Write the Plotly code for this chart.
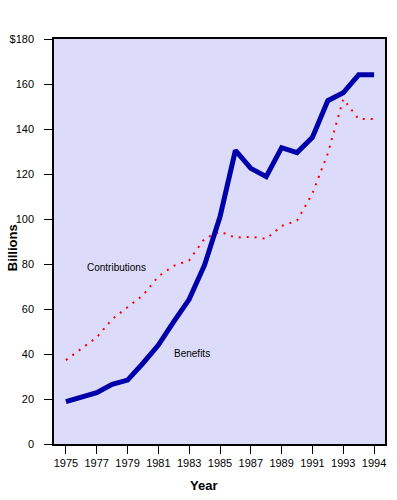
import plotly.graph_objects as go

# x positions (the last plotted point carries the label "1994" in the reference)
years = list(range(1975, 1996))
benefits = [18.8, 21.0, 22.8, 26.5, 28.4, 35.9, 44.0, 54.4, 64.3, 79.6, 101.0,
            130.5, 122.5, 118.8, 131.7, 129.5, 136.3, 152.6, 156.1, 164.1, 164.1]
contributions = [37.3, 42.2, 47.4, 55.5, 61.0, 66.1, 74.5, 79.2, 81.6, 91.3, 94.4,
                 91.7, 92.1, 91.2, 96.9, 99.3, 111.4, 129.2, 153.3, 144.4, 144.4]

x_tickvals = [1975, 1977, 1979, 1981, 1983, 1985, 1987, 1989, 1991, 1993, 1995]
x_ticktext = ["1975", "1977", "1979", "1981", "1983", "1985", "1987", "1989", "1991", "1993", "1994"]
y_tickvals = [0, 20, 40, 60, 80, 100, 120, 140, 160, 180]
y_ticktext = ["0", "20", "40", "60", "80", "100", "120", "140", "160", "$180"]

FONT = "Liberation Sans, Arial, sans-serif"

W, H = 397, 500
L, R, T, B = 54, 10, 39, 56
pw, ph = W - L - R, H - T - B


def px_to_paper(px, py):
    return (px - L) / pw, (H - B - py) / ph


fig = go.Figure()
fig.add_trace(go.Scatter(x=years, y=contributions, mode="lines",
                         line=dict(color="#FF0000", width=2, dash="2px,6px"),
                         name="Contributions", showlegend=False))
fig.add_trace(go.Scatter(x=years, y=benefits, mode="lines",
                         line=dict(color="#0000AA", width=5),
                         name="Benefits", showlegend=False))

fig.add_annotation(x=1978.25, y=78.3, text="Contributions", showarrow=False,
                   font=dict(family=FONT, size=10, color="black"))
fig.add_annotation(x=1983.2, y=40.1, text="Benefits", showarrow=False,
                   font=dict(family=FONT, size=10, color="black"))

bx, by = px_to_paper(12, 248)
fig.add_annotation(x=bx, y=by, xref="paper", yref="paper", text="<b>Billions</b>",
                   showarrow=False, textangle=-90, xanchor="center", yanchor="middle",
                   font=dict(family=FONT, size=13, color="black"))
yx, yy = px_to_paper(204, 486)
fig.add_annotation(x=yx, y=yy, xref="paper", yref="paper", text="<b>Year</b>",
                   showarrow=False, xanchor="center", yanchor="middle",
                   font=dict(family=FONT, size=13, color="black"))

fig.update_layout(
    width=W, height=H,
    margin=dict(l=L, r=R, t=T, b=B, pad=0),
    paper_bgcolor="white",
    plot_bgcolor="#DCDCFA",
    font=dict(family=FONT, size=11, color="black"),
)
fig.update_xaxes(range=[1975 - 12 / 15.5, 1995 + 11 / 15.5],
                 tickvals=x_tickvals, ticktext=x_ticktext,
                 showgrid=False, zeroline=False,
                 showline=True, linecolor="black", linewidth=1.5, mirror=True,
                 ticks="outside", ticklen=8, tickcolor="black", tickwidth=1,
                 tickfont=dict(family=FONT, size=11))
fig.update_yaxes(range=[0, 180],
                 tickvals=y_tickvals, ticktext=y_ticktext,
                 showgrid=False, zeroline=False,
                 showline=True, linecolor="black", linewidth=1.5, mirror=True,
                 ticks="outside", ticklen=8, tickcolor="black", tickwidth=1,
                 ticklabelstandoff=8,
                 tickfont=dict(family=FONT, size=11))

fig.write_html("out.html")
